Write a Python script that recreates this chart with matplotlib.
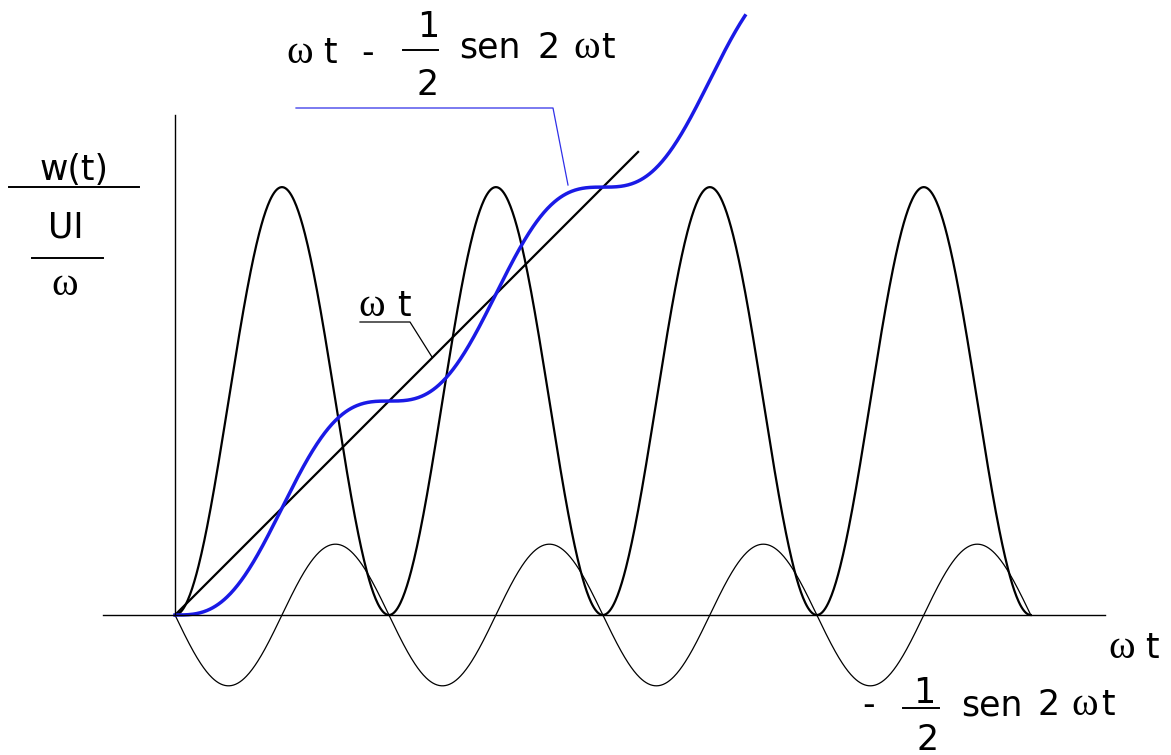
import numpy as np
import matplotlib
matplotlib.use("Agg")
import matplotlib.pyplot as plt
from matplotlib import font_manager as fm

# ---- curve parameters ----
x_end_power = 4 * np.pi           # power curve and small sine span 0 .. 4pi
power_peak = 2 * np.pi            # peak of the sin^2 curve (units)
small_amp = 1.04                  # amplitude of the -1/2 sen 2wt curve as drawn
line_end = 6.8                    # end of the wt line
blue_end = 8.37                   # end of the wt - 1/2 sen 2wt curve
blue_coef = 0.5

W, H = 1171, 755
X0, Y0, S = 175.0, 615.0, 68.1    # pixel origin and pixels per unit

def P(px, py):
    return ((px - X0) / S, (Y0 - py) / S)

try:
    fm.findfont("DejaVu Sans Condensed", fallback_to_default=False)
    SANS, FS = "DejaVu Sans Condensed", 27
except Exception:
    SANS, FS = "DejaVu Sans", 25
SERIF = "Liberation Serif"
FSW = 29

fig = plt.figure(figsize=(W / 100, H / 100), dpi=100)
ax = fig.add_axes([0, 0, 1, 1])
ax.set_xlim(-X0 / S, (W - X0) / S)
ax.set_ylim((Y0 - H) / S, Y0 / S)
ax.axis("off")

x = np.linspace(0, x_end_power, 1200)
ax.plot(x, power_peak * np.sin(x) ** 2, color="black", lw=1.6)
ax.plot(x, -small_amp * np.sin(2 * x), color="black", lw=0.9)
xl = np.linspace(0, line_end, 10)
ax.plot(xl, xl, color="black", lw=1.6)
xb = np.linspace(0, blue_end, 800)
ax.plot(xb, xb - blue_coef * np.sin(2 * xb), color="#1a1ae6", lw=2.5)

# axes lines
ax.plot(*zip(P(103, 615), P(1105, 615)), color="black", lw=1.0)
ax.plot(*zip(P(175, 615), P(175, 115)), color="black", lw=1.0)


def txt(px, py, s, fam=None, size=None, ha="left", va="baseline"):
    ax.text(*P(px, py), s, family=fam or SANS, fontsize=size or FS,
            ha=ha, va=va, color="black")

def bar(x1, x2, y, lw=1.4, color="black"):
    ax.plot(*zip(P(x1, y), P(x2, y)), color=color, lw=lw)

# y label
txt(74, 180, "w(t)", ha="center")
bar(9, 139, 187)
txt(66, 237, "UI", ha="center")
bar(32, 103, 258)
txt(65, 295, "ω", fam=SERIF, size=FSW, ha="center")

# x axis label
txt(1108, 658, "ω", fam=SERIF, size=FSW)
txt(1145, 658, "t")

# wt label with leader
txt(358, 316, "ω", fam=SERIF, size=FSW)
txt(397, 316, "t")
ax.plot(*zip(P(360, 322), P(410, 322), P(432, 357)), color="black", lw=0.9)

# top label
txt(286, 63, "ω", fam=SERIF, size=FSW)
txt(323, 63, "t")
txt(361, 63, "-")
txt(428, 37, "1", ha="center")
bar(403, 438, 50)
txt(428, 95, "2", ha="center")
txt(459, 58, "sen")
txt(538, 58, "2")
txt(573, 58, "ω", fam=SERIF, size=FSW)
txt(601, 58, "t")
ax.plot(*zip(P(296, 108), P(553, 108), P(568, 185)), color="#3030e8", lw=0.9)

# bottom label
txt(862, 715, "-")
txt(924, 703, "1", ha="center")
bar(903, 939, 708)
txt(928, 750, "2", ha="center")
txt(961, 715, "sen")
txt(1038, 715, "2")
txt(1071, 715, "ω", fam=SERIF, size=FSW)
txt(1101, 715, "t")

fig.savefig("out.png", dpi=100)
